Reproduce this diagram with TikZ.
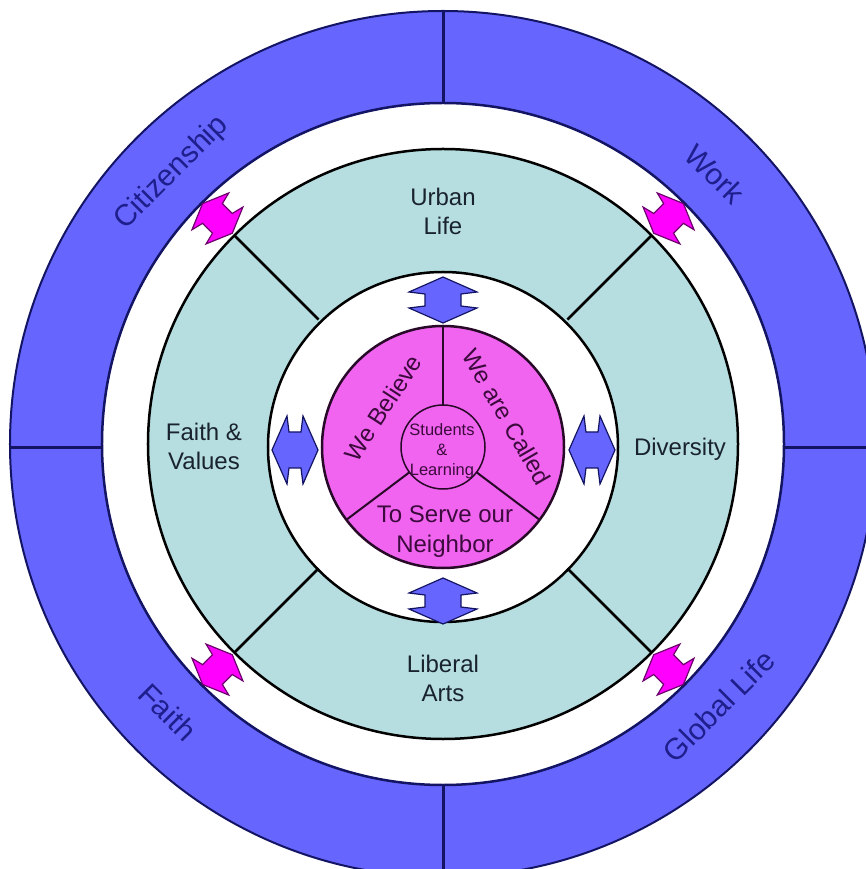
\documentclass[tikz,border=0pt]{standalone}
\usepackage{fontspec}
\setmainfont{Liberation Sans}
\definecolor{ringblue}{RGB}{102,102,255}
\definecolor{navyline}{RGB}{20,20,100}
\definecolor{tealfill}{RGB}{182,222,224}
\definecolor{pinkfill}{RGB}{240,100,240}
\definecolor{magfill}{RGB}{255,0,255}
\definecolor{magline}{RGB}{110,0,110}
\definecolor{darktext}{RGB}{25,35,45}
\definecolor{ringtext}{RGB}{30,30,140}
\definecolor{coretext}{RGB}{60,10,60}
\definecolor{coreline}{RGB}{40,10,40}
\tikzset{
  bluearrow/.pic={
    \draw[fill=ringblue, draw=navyline, line width=1.2pt, line join=miter]
      (-23,0) -- (-8,34) -- (-6,18) -- (6,18) -- (8,34) -- (23,0)
      -- (8,-34) -- (6,-18) -- (-6,-18) -- (-8,-34) -- cycle;
  },
  pinkarrow/.pic={
    \draw[fill=magfill, draw=magline, line width=1.2pt, line join=miter]
      (-21,0) -- (-10,26) -- (-7,14) -- (7,14) -- (10,26) -- (21,0)
      -- (10,-26) -- (7,-14) -- (-7,-14) -- (-10,-26) -- cycle;
  },
  zonelabel/.style={text=darktext, font=\fontsize{24}{29}\selectfont, align=center},
  ringlabel/.style={text=ringtext, font=\fontsize{30}{36}\selectfont},
  corelabel/.style={text=coretext, font=\fontsize{24}{30}\selectfont, align=center},
  centerlabel/.style={text=coretext, font=\fontsize{16.5}{20}\selectfont, align=center},
  blackline/.style={draw=black, line width=2.5pt},
}
\begin{document}
\begin{tikzpicture}[x=1pt,y=1pt]
\useasboundingbox (-443,-425) rectangle (422,444);
\fill[white] (-443,-425) rectangle (422,444);
% outer blue ring
\fill[ringblue, even odd rule] (0,0) circle[radius=433] (0,0) circle[radius=341];
\draw[navyline, line width=2pt] (0,0) circle[radius=433];
\draw[navyline, line width=2.5pt] (0,0) circle[radius=341];
\draw[navyline, line width=3pt] (0,341) -- (0,433);
\draw[navyline, line width=3pt] (0,-341) -- (0,-433);
\draw[navyline, line width=3pt] (-341,-4) -- (-433,-4);
\draw[navyline, line width=3pt] (341,-4) -- (433,-4);
% teal ring
\fill[tealfill] (0,0) circle[radius=295];
\fill[white] (0,-3) circle[radius=175];
\draw[blackline] (0,0) circle[radius=295];
\draw[blackline] (0,-3) circle[radius=175];
\foreach \a in {45,135,225,315}
  \draw[blackline] (\a:176) -- (\a:295);
% pink core
\begin{scope}[shift={(0,-3)}]
  \fill[pinkfill] (0,0) circle[radius=121];
  \draw[coreline, line width=2.5pt] (0,0) circle[radius=121];
  \draw[coreline, line width=1.5pt] (0,0) circle[radius=42];
  \foreach \a in {90,217,323}
    \draw[coreline, line width=2pt] (\a:42) -- (\a:121);
\end{scope}
% blue arrows
\pic[rotate=90] (arrtop) at (0,144) {bluearrow};
\pic[rotate=90] (arrbot) at (0,-157) {bluearrow};
\pic (arrleft) at (-148,-6) {bluearrow};
\pic (arrright) at (149,-6) {bluearrow};
% pink arrows
\pic[rotate=45] (pa1) at (45:319) {pinkarrow};
\pic[rotate=135] (pa2) at (135:319) {pinkarrow};
\pic[rotate=225] (pa3) at (225:319) {pinkarrow};
\pic[rotate=315] (pa4) at (315:319) {pinkarrow};
% labels
\node[zonelabel] (urban) at (0,233) {Urban\\Life};
\node[zonelabel] (liberal) at (0,-234) {Liberal\\Arts};
\node[zonelabel] (faithval) at (-239,-2) {Faith \&\\Values};
\node[zonelabel] (diversity) at (237,-5) {Diversity};
\node[ringlabel, rotate=45] (citizen) at (-271,271) {Citizenship};
\node[ringlabel, rotate=-45] (work) at (272,270) {Work};
\node[ringlabel, rotate=-45] (faith) at (-275,-268) {Faith};
\node[ringlabel, rotate=45] (global) at (276,-262) {Global Life};
\node[corelabel, rotate=57] (believe) at (-60,36) {We Believe};
\node[corelabel, rotate=-60] (called) at (64,27) {We are Called};
\node[corelabel] (serve) at (2,-88) {To Serve our\\Neighbor};
\node[centerlabel] (students) at (-1,-7) {Students\\\&\\Learning};
\end{tikzpicture}
\end{document}
